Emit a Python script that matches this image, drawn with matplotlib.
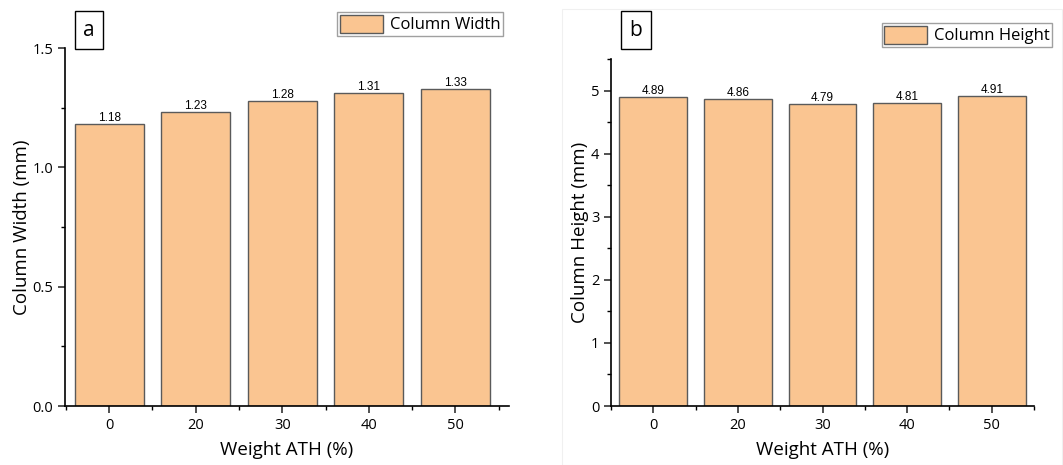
import matplotlib.pyplot as plt
from matplotlib.ticker import MultipleLocator, FixedLocator
import numpy as np

# data
ath = ['0', '20', '30', '40', '50']
width = [1.18, 1.23, 1.28, 1.31, 1.33]
height = [4.89, 4.86, 4.79, 4.81, 4.91]

plt.rcParams['font.family'] = ['Open Sans', 'DejaVu Sans']
face = '#FAC591'
edge = '#5a5a5a'

fig = plt.figure(figsize=(10.63, 4.65), dpi=100)

# faint frame around right panel
fig.patches.append(plt.Rectangle((562/1063, 0.0), 0.47, 1 - 9/465, transform=fig.transFigure,
                                 fill=False, edgecolor='#f0f0f0', lw=0.8))

def panel(rect, vals, ylab, leg, ymax, major, minor, xlim, letter, letter_box, leg_box):
    ax = fig.add_axes(rect)
    x = np.arange(len(ath))
    bars = ax.bar(x, vals, width=0.8, color=face, edgecolor=edge, linewidth=1.0, label=leg)
    for b, v in zip(bars, vals):
        ax.text(b.get_x() + b.get_width() / 2, v, f'{v:.2f}', ha='center', va='bottom',
                fontsize=8.5, family=['Liberation Sans'])
    ax.set_xlim(*xlim)
    ax.set_ylim(0, ymax)
    ax.set_xticks(x)
    ax.set_xticklabels(ath)
    ax.xaxis.set_minor_locator(FixedLocator(np.arange(-0.5, 4.6, 1.0)))
    ax.yaxis.set_major_locator(MultipleLocator(major))
    ax.yaxis.set_minor_locator(MultipleLocator(minor))
    if major < 1:
        ax.yaxis.set_major_formatter(plt.FormatStrFormatter('%.1f'))
    for s in ['top', 'right']:
        ax.spines[s].set_visible(False)
    for s in ['left', 'bottom']:
        ax.spines[s].set_linewidth(1.2)
    ax.tick_params(which='major', length=5, width=1.1, labelsize=10.5, color='#222222')
    ax.tick_params(which='minor', length=3, width=1.0)
    ax.set_xlabel('Weight ATH (%)', fontsize=13.5, labelpad=6)
    ax.set_ylabel(ylab, fontsize=13.5, labelpad=1)
    # panel letter
    fig.text(letter_box[0], letter_box[1], letter, fontsize=15, ha='center', va='center',
             bbox=dict(boxstyle='square,pad=0.4', fc='white', ec='black', lw=1.0))
    lg = fig.legend(handles=[bars], labels=[leg], loc='center', bbox_to_anchor=leg_box,
                    fontsize=12, frameon=True, fancybox=False, edgecolor='#888888',
                    handlelength=2.6, handleheight=1.3, handletextpad=0.4, borderpad=0.15,
                    borderaxespad=0)
    lg.get_frame().set_linewidth(1.0)
    return ax

panel([65/1063, 1 - 406/465, (509-65)/1063, (406-48)/465], width, 'Column Width (mm)',
      'Column Width', 1.5, 0.5, 0.25, (-0.51, 4.62), 'a', (89/1063, 1 - 30/465),
      (420/1063, 1 - 24/465))
panel([611/1063, 1 - 406/465, (1034-611)/1063, (406-59)/465], height, 'Column Height (mm)',
      'Column Height', 5.5, 1, 0.5, (-0.5, 4.5), 'b', (636/1063, 1 - 30/465),
      (967/1063, 1 - 35/465))

plt.savefig('out.png', dpi=100)
